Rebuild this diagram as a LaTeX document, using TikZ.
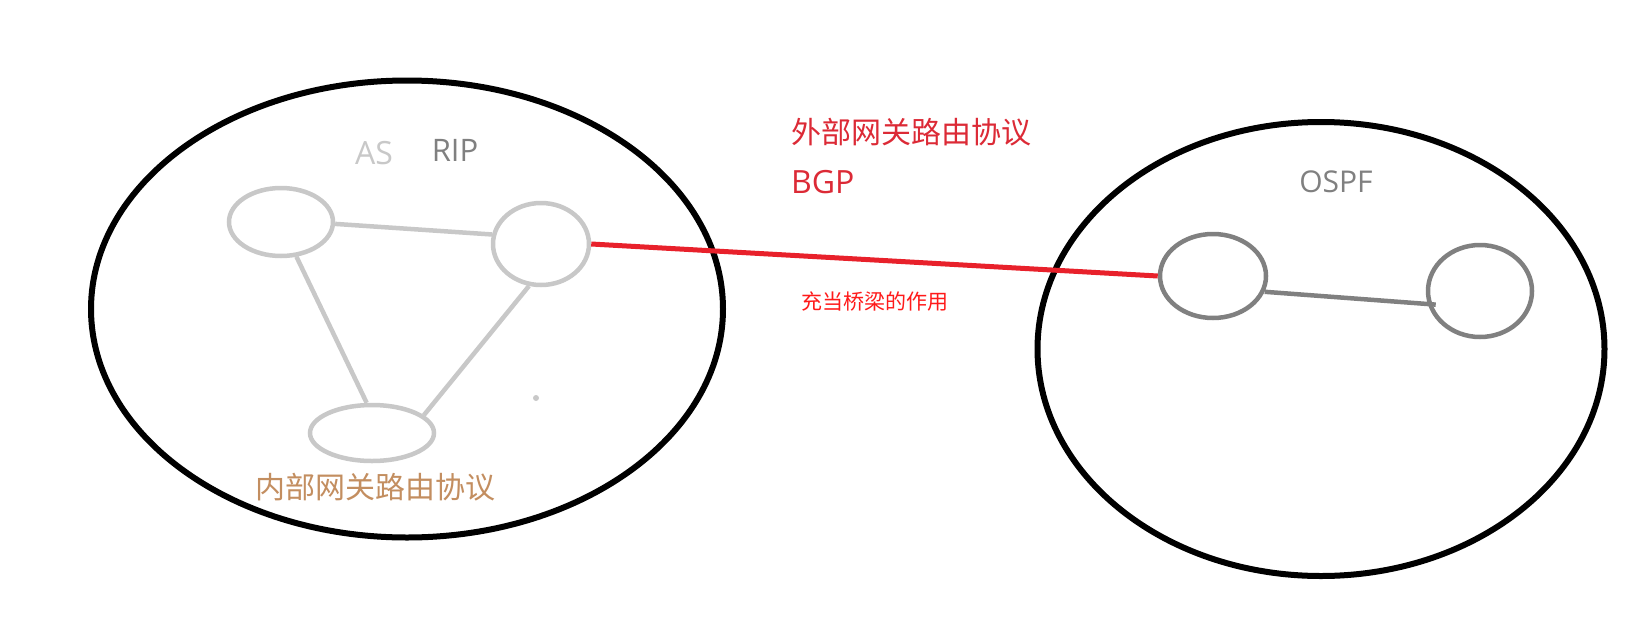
\documentclass[tikz,border=0pt]{standalone}
\usepackage{fontspec}
\setmainfont{Open Sans}
\newfontfamily\cjk{Noto Sans CJK SC}
\usetikzlibrary{shapes.geometric}
\definecolor{lgray}{HTML}{C8C8C8}
\definecolor{dgray}{HTML}{808080}
\definecolor{bgpred}{HTML}{DC2A36}
\definecolor{linkred}{HTML}{E8212B}
\definecolor{noteRed}{HTML}{FF1A1A}
\definecolor{brown}{HTML}{C38E60}
\tikzset{
  asbox/.style={ellipse, draw=black, line width=6pt, inner sep=0pt},
  lrouter/.style={ellipse, draw=lgray, line width=4.5pt, inner sep=0pt},
  drouter/.style={ellipse, draw=dgray, line width=4.5pt, inner sep=0pt},
  llink/.style={draw=lgray, line width=4.5pt},
  dlink/.style={draw=dgray, line width=4.5pt},
  bgplink/.style={draw=linkred, line width=5pt},
  lbl/.style={inner sep=0pt, anchor=center}
}
\begin{document}
\begin{tikzpicture}[x=1pt, y=-1pt]
\useasboundingbox[fill=white] (0,0) rectangle (1647,627);
% autonomous systems
\node[asbox, minimum width=632pt, minimum height=457pt] (as1) at (407,309) {};
\node[asbox, minimum width=567pt, minimum height=454pt] (as2) at (1321,349) {};
% routers left
\node[lrouter, minimum width=104pt, minimum height=68pt] (A) at (281,222) {};
\node[lrouter, minimum width=96pt, minimum height=82pt] (B) at (541,244) {};
\node[lrouter, minimum width=124pt, minimum height=56pt] (C) at (372,433) {};
% routers right
\node[drouter, minimum width=106pt, minimum height=84pt] (D) at (1213,276) {};
\node[drouter, minimum width=104pt, minimum height=92pt] (E) at (1480,291) {};
% links
\draw[llink] (A.-2) -- (B.169);
\draw[llink] (A.-66) -- (C.100);
\draw[llink] (B.254) -- (C.19);
\draw[dlink, shorten >=-8pt] (D.-17) -- (E.194);
\draw[bgplink] (B.0) -- (D.180);
% dot
\node[circle, fill=lgray, inner sep=0pt, minimum size=6pt] (dot) at (536,398) {};
% labels
\node[lbl, text=lgray, font=\fontsize{32}{38}\selectfont] (asl) at (374,153) {AS};
\node[lbl, text=dgray, font=\fontsize{31}{37}\selectfont] (rip) at (455,150) {RIP};
\node[lbl, text=dgray, font=\fontsize{30}{36}\selectfont] (ospf) at (1336,182) {OSPF};
\node[lbl, text=bgpred, font=\cjk\fontsize{30}{36}\selectfont] (egp) at (911,132) {外部网关路由协议};
\node[lbl, text=bgpred, font=\fontsize{32}{38}\selectfont, anchor=west] (bgp) at (791,182) {BGP};
\node[lbl, text=noteRed, font=\cjk\fontsize{21}{25}\selectfont] (note) at (875,302) {充当桥梁的作用};
\node[lbl, text=brown, font=\cjk\fontsize{30}{36}\selectfont] (igp) at (375,487) {内部网关路由协议};
\end{tikzpicture}
\end{document}
